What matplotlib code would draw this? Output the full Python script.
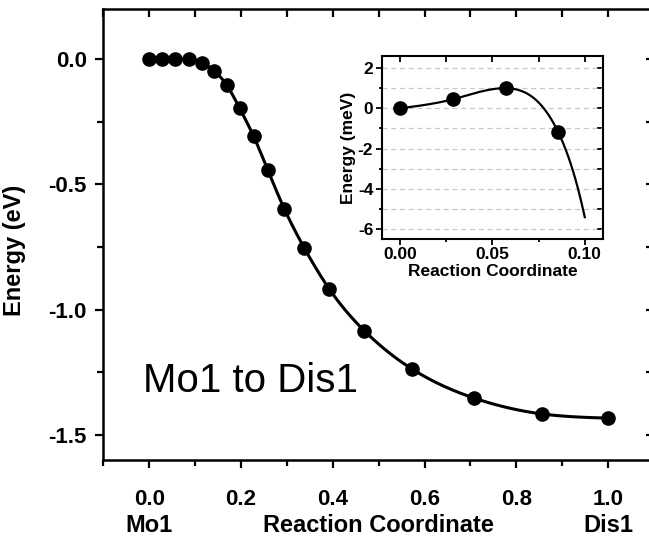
import numpy as np
import matplotlib.pyplot as plt
from matplotlib.ticker import MultipleLocator

plt.rcParams['font.family'] = ['Liberation Sans', 'DejaVu Sans']

# reaction coordinate and energies (eV)
coord = [0.0, 0.0286, 0.0571, 0.0857, 0.1143, 0.1419, 0.1693, 0.1971, 0.2275,
         0.2587, 0.2948, 0.3383, 0.3922, 0.4692, 0.5737, 0.7081, 0.8551, 1.0]
energy = [0.0, 0.00045, 0.0010, -0.0012, -0.0141, -0.048, -0.105, -0.196, -0.308,
          -0.444, -0.599, -0.755, -0.917, -1.085, -1.238, -1.353, -1.416, -1.433]

# inset: first images in meV
inset_coord = [0.0, 0.0286, 0.0571, 0.0857]
inset_energy = [0.0, 0.45, 1.0, -1.2]
inset_curve_end = 0.1

start_label = "Mo1"
end_label = "Dis1"
path_label = "Mo1 to Dis1"


def natural_spline(x, y, xs):
    x = np.asarray(x, float)
    y = np.asarray(y, float)
    n = len(x)
    h = np.diff(x)
    A = np.zeros((n, n))
    b = np.zeros(n)
    A[0, 0] = A[-1, -1] = 1
    for i in range(1, n - 1):
        A[i, i - 1] = h[i - 1]
        A[i, i] = 2 * (h[i - 1] + h[i])
        A[i, i + 1] = h[i]
        b[i] = 3 * ((y[i + 1] - y[i]) / h[i] - (y[i] - y[i - 1]) / h[i - 1])
    c = np.linalg.solve(A, b)
    idx = np.clip(np.searchsorted(x, xs) - 1, 0, n - 2)
    dx = xs - x[idx]
    hi = h[idx]
    bc = (y[idx + 1] - y[idx]) / hi - hi * (2 * c[idx] + c[idx + 1]) / 3
    dc = (c[idx + 1] - c[idx]) / (3 * hi)
    return y[idx] + bc * dx + c[idx] * dx ** 2 + dc * dx ** 3


fig = plt.figure(figsize=(6.49, 5.38), dpi=100)
ax = fig.add_axes([0.1592, 0.145, 0.8484, 0.8383])

xs = np.linspace(coord[0], coord[-1], 600)
ax.plot(xs, natural_spline(coord, energy, xs), color="black", lw=2.2, zorder=2)
ax.plot(coord, energy, "o", color="black", ms=9.5, zorder=3)

ax.set_xlim(-0.1, 1.1)
ax.set_ylim(-1.6, 0.2)
ax.xaxis.set_major_locator(MultipleLocator(0.2))
ax.xaxis.set_minor_locator(MultipleLocator(0.1))
ax.yaxis.set_major_locator(MultipleLocator(0.5))
ax.yaxis.set_minor_locator(MultipleLocator(0.25))
ax.xaxis.set_major_formatter(lambda v, p: f"{v:.1f}")
ax.yaxis.set_major_formatter(lambda v, p: f"{v:.1f}")
ax.tick_params(which="both", width=1.6)
ax.tick_params(axis="x", which="major", direction="out", length=6, pad=15)
ax.tick_params(axis="y", which="major", direction="out", length=6, pad=6)
ax.tick_params(which="minor", direction="out", length=4)
for lab in ax.get_xticklabels() + ax.get_yticklabels():
    lab.set_fontsize(16)
    lab.set_fontweight("bold")
for sp in ax.spines.values():
    sp.set_linewidth(1.8)
# mirrored ticks point inward
tx = ax.secondary_xaxis("top")
tx.xaxis.set_major_locator(MultipleLocator(0.1))
tx.tick_params(direction="in", length=6, width=1.6, labeltop=False)
tx.spines["top"].set_visible(False)
ry = ax.secondary_yaxis("right")
ry.yaxis.set_major_locator(MultipleLocator(0.25))
ry.tick_params(direction="in", length=6, width=1.6, labelright=False)
ry.spines["right"].set_visible(False)

ax.set_ylabel("Energy (eV)", fontsize=17, fontweight="bold", labelpad=9)
ax.yaxis.set_label_coords(-0.14, 0.465)

trans = ax.get_xaxis_transform()
ax.text(0.0, -0.16, start_label, transform=trans, ha="center", va="baseline",
        fontsize=17, fontweight="bold")
ax.text(0.5, -0.16, "Reaction Coordinate", transform=trans, ha="center",
        va="baseline", fontsize=17, fontweight="bold")
ax.text(1.0, -0.16, end_label, transform=trans, ha="center", va="baseline",
        fontsize=17, fontweight="bold")
ax.text(-0.014, -1.33, path_label, ha="left", va="baseline", fontsize=29)

# inset
ins = fig.add_axes([0.588, 0.5558, 0.3415, 0.340])
xi = np.linspace(0, inset_curve_end, 300)
ins.plot(xi, natural_spline(coord, np.array(energy) * 1000, xi), color="black",
         lw=1.6, zorder=2)
ins.plot(inset_coord, inset_energy, "o", color="black", ms=9.5, zorder=3)
ins.set_xlim(-0.01, 0.11)
ins.set_ylim(-6.5, 2.6)
ins.xaxis.set_major_locator(MultipleLocator(0.05))
ins.xaxis.set_minor_locator(MultipleLocator(0.025))
ins.yaxis.set_major_locator(MultipleLocator(2))
ins.yaxis.set_minor_locator(MultipleLocator(1))
ins.xaxis.set_major_formatter(lambda v, p: f"{v:.2f}")
ins.yaxis.set_major_formatter(lambda v, p: f"{v:.0f}")
ins.grid(True, which="both", axis="y", color="#c8c8c8", ls=(0, (4, 3)), lw=0.9)
ins.tick_params(which="both", direction="out", width=1.3)
ins.tick_params(which="major", length=4, pad=2)
ins.tick_params(which="minor", length=2.5)
iy = ins.secondary_yaxis("right")
iy.yaxis.set_major_locator(MultipleLocator(1))
iy.tick_params(direction="in", length=4, width=1.3, labelright=False)
iy.spines["right"].set_visible(False)
ix = ins.secondary_xaxis("top")
ix.xaxis.set_major_locator(MultipleLocator(0.025))
ix.tick_params(direction="in", length=4, width=1.3, labeltop=False)
ix.spines["top"].set_visible(False)
for lab in ins.get_xticklabels() + ins.get_yticklabels():
    lab.set_fontsize(12.5)
    lab.set_fontweight("bold")
for sp in ins.spines.values():
    sp.set_linewidth(1.5)
ins.set_xlabel("Reaction Coordinate", fontsize=12.5, fontweight="bold", labelpad=1)
ins.set_ylabel("Energy (meV)", fontsize=12.5, fontweight="bold", labelpad=1)

plt.savefig("out.png", dpi=100)
